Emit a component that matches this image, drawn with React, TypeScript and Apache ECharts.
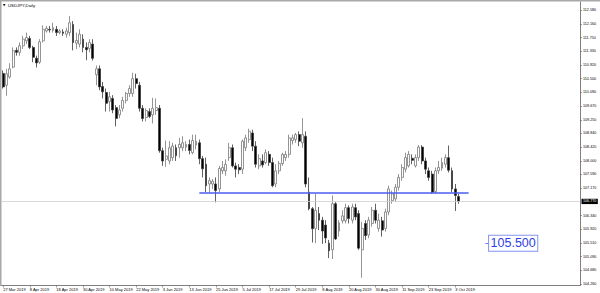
import React, { useEffect, useRef } from "react";
import * as echarts from "echarts";

// ---- data ----
const dates: string[] = [
  "27 Mar 2019", "28 Mar 2019", "29 Mar 2019",
  "1 Apr 2019", "2 Apr 2019", "3 Apr 2019", "4 Apr 2019", "5 Apr 2019", "8 Apr 2019", "9 Apr 2019", "10 Apr 2019", "11 Apr 2019", "12 Apr 2019",
  "15 Apr 2019", "16 Apr 2019", "17 Apr 2019", "18 Apr 2019", "19 Apr 2019", "22 Apr 2019", "23 Apr 2019", "24 Apr 2019", "25 Apr 2019", "26 Apr 2019", "29 Apr 2019", "30 Apr 2019",
  "1 May 2019", "2 May 2019", "3 May 2019", "6 May 2019", "7 May 2019", "8 May 2019", "9 May 2019", "10 May 2019", "13 May 2019", "14 May 2019", "15 May 2019", "16 May 2019",
  "17 May 2019", "20 May 2019", "21 May 2019", "22 May 2019", "23 May 2019", "24 May 2019", "27 May 2019", "28 May 2019", "29 May 2019", "30 May 2019", "31 May 2019",
  "3 Jun 2019", "4 Jun 2019", "5 Jun 2019", "6 Jun 2019", "7 Jun 2019", "10 Jun 2019", "11 Jun 2019", "12 Jun 2019", "13 Jun 2019", "14 Jun 2019",
  "17 Jun 2019", "18 Jun 2019", "19 Jun 2019", "20 Jun 2019", "21 Jun 2019", "24 Jun 2019", "25 Jun 2019", "26 Jun 2019", "27 Jun 2019", "28 Jun 2019",
  "1 Jul 2019", "2 Jul 2019", "3 Jul 2019", "4 Jul 2019", "5 Jul 2019", "8 Jul 2019", "9 Jul 2019", "10 Jul 2019", "11 Jul 2019", "12 Jul 2019",
  "15 Jul 2019", "16 Jul 2019", "17 Jul 2019", "18 Jul 2019", "19 Jul 2019", "22 Jul 2019", "23 Jul 2019", "24 Jul 2019", "25 Jul 2019", "26 Jul 2019",
  "29 Jul 2019", "30 Jul 2019", "31 Jul 2019",
  "1 Aug 2019", "2 Aug 2019", "5 Aug 2019", "6 Aug 2019", "7 Aug 2019", "8 Aug 2019", "9 Aug 2019", "12 Aug 2019", "13 Aug 2019", "14 Aug 2019",
  "15 Aug 2019", "16 Aug 2019", "19 Aug 2019", "20 Aug 2019", "21 Aug 2019", "22 Aug 2019", "23 Aug 2019", "26 Aug 2019", "27 Aug 2019", "28 Aug 2019",
  "29 Aug 2019", "30 Aug 2019",
  "2 Sep 2019", "3 Sep 2019", "4 Sep 2019", "5 Sep 2019", "6 Sep 2019", "9 Sep 2019", "10 Sep 2019", "11 Sep 2019", "12 Sep 2019", "13 Sep 2019",
  "16 Sep 2019", "17 Sep 2019", "18 Sep 2019", "19 Sep 2019", "20 Sep 2019", "23 Sep 2019", "24 Sep 2019", "25 Sep 2019", "26 Sep 2019", "27 Sep 2019",
  "30 Sep 2019",
  "1 Oct 2019", "2 Oct 2019", "3 Oct 2019", "4 Oct 2019",
];

// [open, high, low, close]
const ohlc: number[][] = [
  [110.66, 110.75, 110.2, 110.25], [110.3, 110.8, 109.98, 110.65], [110.55, 110.97, 110.5, 110.8],
  [110.85, 111.45, 110.82, 111.35], [111.36, 111.45, 111.2, 111.3], [111.3, 111.6, 111.2, 111.5],
  [111.5, 111.8, 111.4, 111.7], [111.65, 111.9, 111.55, 111.75], [111.72, 111.8, 111.4, 111.45],
  [111.45, 111.5, 111.0, 111.15], [111.12, 111.2, 110.84, 110.98], [111.0, 111.7, 110.95, 111.62],
  [111.65, 112.12, 111.6, 112.0], [111.95, 112.1, 111.9, 112.03], [112.0, 112.1, 111.9, 111.98],
  [111.97, 112.2, 111.9, 112.05], [112.0, 112.1, 111.8, 111.9], [111.9, 112.0, 111.85, 111.95],
  [111.92, 112.0, 111.8, 111.88], [111.85, 112.05, 111.75, 111.95], [111.9, 112.4, 111.8, 112.2],
  [112.15, 112.25, 111.36, 111.6], [111.58, 111.9, 111.4, 111.66], [111.55, 112.0, 111.45, 111.85],
  [111.7, 111.85, 111.3, 111.45], [111.45, 111.6, 111.06, 111.38], [111.42, 111.7, 111.3, 111.6],
  [111.55, 111.7, 111.05, 111.12], [110.62, 110.9, 110.3, 110.8], [110.8, 110.9, 110.15, 110.25],
  [110.26, 110.4, 109.9, 110.1], [110.08, 110.2, 109.5, 109.75], [109.8, 110.1, 109.5, 109.95],
  [109.9, 110.0, 109.45, 109.55], [109.62, 109.7, 109.05, 109.29], [109.4, 109.7, 109.3, 109.55],
  [109.6, 109.95, 109.5, 109.84], [109.84, 110.1, 109.75, 110.05], [110.05, 110.3, 109.95, 110.2],
  [110.05, 110.68, 109.95, 110.5], [110.5, 110.65, 110.2, 110.35], [110.3, 110.4, 109.5, 109.6],
  [109.6, 109.7, 109.2, 109.29], [109.32, 109.6, 109.2, 109.53], [109.5, 109.6, 109.3, 109.35],
  [109.4, 109.92, 109.14, 109.6], [109.53, 109.9, 109.4, 109.62], [109.6, 109.7, 108.25, 108.31],
  [108.31, 108.4, 107.85, 108.0], [108.05, 108.62, 107.82, 108.15], [108.0, 108.6, 107.9, 108.4],
  [108.1, 108.55, 108.0, 108.45], [108.4, 108.5, 108.0, 108.16], [108.4, 108.7, 108.1, 108.5],
  [108.4, 108.75, 108.3, 108.55], [108.42, 108.6, 108.3, 108.5], [108.5, 108.65, 108.2, 108.32],
  [108.25, 108.8, 108.2, 108.62], [108.48, 108.8, 108.35, 108.6], [108.55, 108.65, 107.9, 108.07],
  [108.07, 108.15, 107.5, 107.76], [107.9, 108.1, 107.05, 107.25], [107.3, 107.5, 107.03, 107.4],
  [107.3, 107.45, 107.15, 107.38], [107.3, 107.5, 106.74, 107.1], [107.15, 107.85, 107.05, 107.77],
  [107.7, 108.0, 107.6, 107.8], [107.7, 108.05, 107.55, 107.9], [108.1, 108.55, 108.0, 108.4],
  [108.4, 108.5, 107.8, 107.85], [107.85, 107.95, 107.5, 107.75], [107.8, 107.9, 107.6, 107.73],
  [107.75, 108.65, 107.6, 108.6], [108.4, 108.8, 108.3, 108.7], [108.65, 108.98, 108.55, 108.9],
  [108.85, 108.95, 108.3, 108.45], [108.45, 108.6, 107.8, 107.9], [107.85, 108.2, 107.75, 108.07],
  [108.0, 108.2, 107.8, 107.88], [107.95, 108.35, 107.9, 108.25], [108.2, 108.3, 107.85, 107.95],
  [107.95, 108.1, 107.2, 107.25], [107.3, 107.9, 107.2, 107.7], [107.7, 108.0, 107.6, 107.92],
  [107.92, 108.25, 107.85, 108.2], [108.1, 108.3, 108.0, 108.2], [108.2, 108.8, 108.1, 108.7],
  [108.62, 108.8, 108.5, 108.7], [108.65, 108.85, 108.55, 108.8], [108.8, 108.9, 108.45, 108.6],
  [108.55, 109.3, 108.4, 108.8], [108.75, 108.9, 107.2, 107.3], [107.05, 107.5, 106.5, 106.55],
  [106.55, 106.6, 105.52, 105.94], [105.95, 107.0, 105.5, 106.5], [106.4, 106.6, 105.9, 106.2],
  [106.2, 106.3, 105.48, 105.87], [106.05, 106.2, 105.5, 105.66], [105.5, 105.6, 105.05, 105.27],
  [105.3, 106.95, 105.02, 106.7], [106.7, 106.75, 105.6, 105.63], [105.87, 106.2, 105.7, 106.12],
  [106.18, 106.5, 106.1, 106.33], [106.18, 106.7, 106.1, 106.58], [106.58, 106.65, 106.1, 106.25],
  [106.2, 106.7, 106.1, 106.6], [106.58, 106.7, 106.2, 106.3], [106.4, 106.5, 105.3, 105.35],
  [105.3, 106.15, 104.45, 105.95], [106.1, 106.2, 105.6, 105.73], [105.75, 106.3, 105.65, 106.2],
  [106.1, 106.6, 106.0, 106.5], [106.5, 106.7, 106.1, 106.2], [105.95, 106.4, 105.85, 106.2],
  [106.18, 106.3, 105.7, 105.9], [105.95, 106.55, 105.85, 106.45], [106.45, 107.25, 106.35, 107.15],
  [106.8, 107.1, 106.7, 107.0], [106.85, 107.3, 106.75, 107.2], [107.2, 107.6, 107.1, 107.5],
  [107.5, 107.9, 107.4, 107.8], [107.75, 108.25, 107.65, 108.1], [107.85, 108.3, 107.8, 108.2],
  [108.08, 108.2, 107.9, 108.02], [107.85, 108.2, 107.8, 108.1], [108.1, 108.48, 108.0, 108.42],
  [108.42, 108.48, 107.9, 108.0], [108.0, 108.1, 107.6, 107.75], [107.7, 107.8, 107.4, 107.5],
  [107.6, 107.7, 107.0, 107.05], [107.07, 107.8, 107.0, 107.7], [107.7, 108.0, 107.6, 107.8],
  [107.78, 108.1, 107.7, 107.95], [107.9, 108.2, 107.8, 108.1], [108.1, 108.47, 107.65, 107.72],
  [107.7, 107.8, 107.05, 107.15], [107.15, 107.3, 106.48, 106.95], [106.92, 107.0, 106.7, 106.77],
];

const yTicks: number[] = [
  104.26, 104.68, 105.09, 105.51, 105.92, 106.34, 107.17, 107.59, 108.0, 108.42,
  108.84, 109.25, 109.67, 110.09, 110.5, 110.92, 111.33, 111.75, 112.16, 112.58,
];

const symbolName = "USDJPY,Daily";
const lastPrice = 106.77;
const levelPrice = 107.03;
const levelStartIndex = 59;
const levelEndIndex = 140;
const notePrice = 105.5;
const noteIndex = 146;
const futureSlots = 36;
const labelEvery = 8;

const FONT = "Liberation Sans, Arial, sans-serif";

export default function App() {
  const ref = useRef<HTMLDivElement>(null);

  useEffect(() => {
    if (!ref.current) return;
    const chart = echarts.init(ref.current, undefined, { renderer: "svg" });

    const future = Array.from({ length: futureSlots }, (_, k) => `+${k + 1}`);
    const categories = [...dates, ...future];
    const showIdx = (idx: number) => idx < dates.length && idx % labelEvery === 0;

    chart.setOption({
      animation: false,
      backgroundColor: "#ffffff",
      grid: { left: 1.5, right: 20, top: 2, bottom: 7.5, containLabel: false },
      xAxis: {
        type: "category",
        data: categories,
        boundaryGap: true,
        axisLine: { show: true, lineStyle: { color: "#808080", width: 1 } },
        axisTick: { show: true, interval: (i: number) => showIdx(i), alignWithLabel: true, length: 2, lineStyle: { color: "#606060", width: 0.6 } },
        axisLabel: {
          show: true,
          interval: (i: number) => showIdx(i),
          align: "left",
          fontSize: 4,
          margin: 1.5,
          color: "#000000",
          fontFamily: FONT,
        },
        splitLine: { show: false },
      },
      yAxis: {
        type: "value",
        position: "right",
        min: 104.215,
        max: 112.83,
        scale: true,
        axisLine: { show: true, onZero: false, lineStyle: { color: "#808080", width: 1 } },
        axisTick: { show: true, customValues: yTicks, length: 2, lineStyle: { color: "#606060", width: 0.6 } },
        axisLabel: {
          show: true,
          customValues: yTicks,
          formatter: (v: number) => v.toFixed(3),
          fontSize: 3.7,
          margin: 3,
          color: "#000000",
          fontFamily: FONT,
        },
        splitLine: { show: false },
      },
      title: { show: false },
      graphic: [
        { type: "rect", left: 0, top: 0, shape: { width: 600, height: 1.5 }, style: { fill: "#a8a8a8" }, silent: true },
        { type: "rect", left: 0, top: 0, shape: { width: 1.5, height: 286 }, style: { fill: "#a8a8a8" }, silent: true },
        { type: "text", left: 3, top: 3.5, style: { text: "▼", fontSize: 3, fill: "#000000", fontFamily: "DejaVu Sans" }, silent: true },
        { type: "text", left: 8, top: 3, style: { text: symbolName, fontSize: 4.3, fill: "#000000", fontFamily: FONT }, silent: true },
      ],
      series: [
        {
          type: "candlestick",
          data: ohlc.map(([o, h, l, c]) => [o, c, l, h]),
          barWidth: 2.4,
          itemStyle: {
            color: "#ffffff",
            color0: "#000000",
            borderColor: "#7a7a7a",
            borderColor0: "#3a3a3a",
            borderWidth: 0.8,
          },
          markLine: {
            silent: true,
            symbol: ["none", "none"],
            animation: false,
            data: [
              {
                yAxis: lastPrice,
                lineStyle: { color: "#cfcfcf", width: 0.8, type: "solid" },
                label: {
                  show: true,
                  position: "end",
                  distance: 1.5,
                  formatter: () => lastPrice.toFixed(3),
                  backgroundColor: "#000000",
                  color: "#ffffff",
                  fontSize: 3.7,
                  fontFamily: FONT,
                  padding: [0.8, 1.5, 0.5, 1.5],
                },
              },
              [
                {
                  coord: [levelStartIndex, levelPrice],
                  lineStyle: { color: "#4b5ef0", width: 1.5, type: "solid" },
                  label: { show: false },
                },
                { coord: [levelEndIndex, levelPrice] },
              ],
              [
                {
                  coord: [noteIndex - 1, notePrice],
                  lineStyle: { color: "#4b5ef0", width: 0.8, type: "solid" },
                  label: { show: false },
                },
                { coord: [noteIndex, notePrice] },
              ],
            ],
          },
          markPoint: {
            silent: true,
            animation: false,
            data: [
              {
                coord: [noteIndex, notePrice],
                symbol: "circle",
                symbolSize: 0,
                label: {
                  show: true,
                  position: "right",
                  distance: 0.5,
                  formatter: () => notePrice.toFixed(3),
                  fontSize: 12.5,
                  fontFamily: FONT,
                  color: "#2e3ee6",
                  backgroundColor: "#ffffff",
                  borderColor: "#8593f2",
                  borderWidth: 1,
                  padding: [1.5, 1.5, 0.5, 1.5],
                },
              },
            ],
          },
        },
      ],
    });

    return () => chart.dispose();
  }, []);

  return (
    <div
      ref={ref}
      style={{ position: "fixed", left: 0, top: 0, width: 600, height: 293, background: "#ffffff" }}
    />
  );
}
